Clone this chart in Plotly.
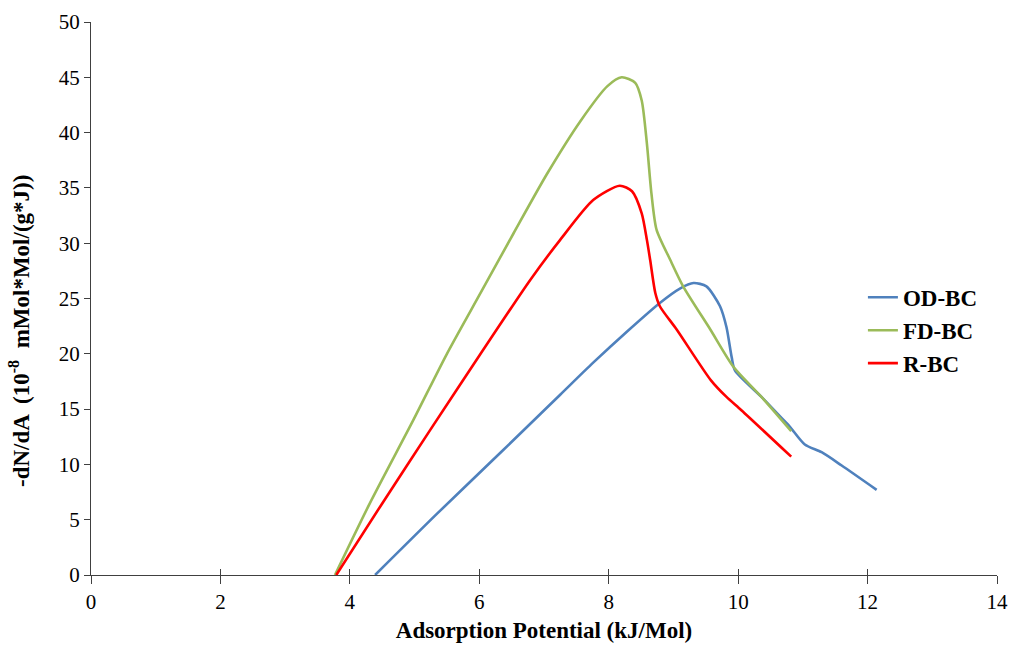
import plotly.graph_objects as go

od_x = [4.39, 5.34, 6.37, 7.25, 7.76, 8.28, 8.79, 9.10, 9.31, 9.51, 9.72, 9.82, 9.90, 9.95, 10.36, 10.67, 10.80, 11.03, 11.29, 11.60, 12.14]
od_y = [0.0, 5.5, 11.3, 16.3, 19.2, 22.0, 24.6, 25.9, 26.4, 26.1, 24.3, 22.4, 19.7, 18.5, 16.1, 14.2, 13.4, 11.8, 11.1, 9.9, 7.7]

fd_x = [3.77, 4.31, 4.98, 5.50, 6.02, 6.53, 7.05, 7.57, 7.98, 8.20, 8.41, 8.51, 8.59, 8.66, 8.74, 8.95, 9.15, 9.57, 9.93, 10.36, 10.82]
fd_y = [0.0, 6.5, 14.0, 20.0, 25.5, 30.9, 36.3, 41.1, 44.2, 45.0, 44.5, 42.9, 39.0, 34.5, 31.2, 28.5, 26.1, 22.2, 18.8, 16.1, 13.0]

r_x = [3.79, 4.47, 5.24, 6.02, 6.79, 7.25, 7.76, 8.17, 8.36, 8.51, 8.59, 8.64, 8.72, 8.79, 9.05, 9.58, 9.82, 10.05, 10.82]
r_y = [0.0, 6.2, 13.1, 20.0, 26.7, 30.3, 33.9, 35.2, 34.7, 32.7, 30.3, 28.5, 25.5, 24.3, 22.2, 17.6, 16.1, 14.9, 10.7]

x_ticks = [0, 2, 4, 6, 8, 10, 12, 14]
y_ticks = [0, 5, 10, 15, 20, 25, 30, 35, 40, 45, 50]

FONT = "Liberation Serif, Times New Roman, DejaVu Serif, serif"
AX = "#404040"

fig = go.Figure()
for name, xs, ys, col in [("OD-BC", od_x, od_y, "#4F81BD"),
                          ("FD-BC", fd_x, fd_y, "#9BBB59"),
                          ("R-BC", r_x, r_y, "#FF0000")]:
    fig.add_trace(go.Scatter(x=xs, y=ys, mode="lines", name="<b>" + name + "</b>",
                             line=dict(color=col, width=2.6, shape="spline", smoothing=0.7)))

# invisible trace to carry inside ticks for crossing x ticks
fig.add_trace(go.Scatter(x=[0, 14], y=[0, 0], xaxis="x2", mode="lines",
                         line=dict(width=0), showlegend=False, hoverinfo="skip"))

fig.update_layout(
    width=1010, height=645,
    margin=dict(l=91, r=13, t=22, b=70, autoexpand=False),
    paper_bgcolor="white", plot_bgcolor="white",
    font=dict(family=FONT, size=21, color="#000000"),
    xaxis=dict(range=[0, 14], tickvals=x_ticks, showgrid=False, zeroline=False,
               showline=True, linecolor=AX, linewidth=1.3, automargin=False,
               ticks="outside", ticklen=8, tickcolor=AX, tickwidth=1.3,
               tickfont=dict(family=FONT, size=21),
               title=dict(text="<b>Adsorption Potential (kJ/Mol)</b>",
                          font=dict(family=FONT, size=23), standoff=8)),
    xaxis2=dict(range=[0, 14], tickvals=x_ticks, overlaying="x", side="bottom",
                showgrid=False, zeroline=False, showline=False, showticklabels=False,
                ticks="inside", ticklen=6, tickcolor=AX, tickwidth=1.3, anchor="y",
                automargin=False),
    yaxis=dict(range=[0, 50], tickvals=y_ticks, showgrid=False, zeroline=False,
               showline=True, linecolor=AX, linewidth=1.3, automargin=False,
               ticks="outside", ticklen=6, tickcolor=AX, tickwidth=1.3,
               tickfont=dict(family=FONT, size=21)),
    annotations=[dict(text="<b>-dN/dA  (10<sup>-8</sup>  mMol*Mol/(g*J))</b>",
                      textangle=-90, xref="paper", yref="paper",
                      x=(19 - 91) / 906, y=(575 - 331) / 553,
                      xanchor="center", yanchor="middle", showarrow=False,
                      font=dict(family=FONT, size=23, color="#000000"))],
    legend=dict(x=0.852, y=0.541, xanchor="left", yanchor="top",
                font=dict(family=FONT, size=23, color="#000000"),
                itemwidth=30, bgcolor="rgba(0,0,0,0)"),
    showlegend=True,
)

fig.write_html("out.html")
